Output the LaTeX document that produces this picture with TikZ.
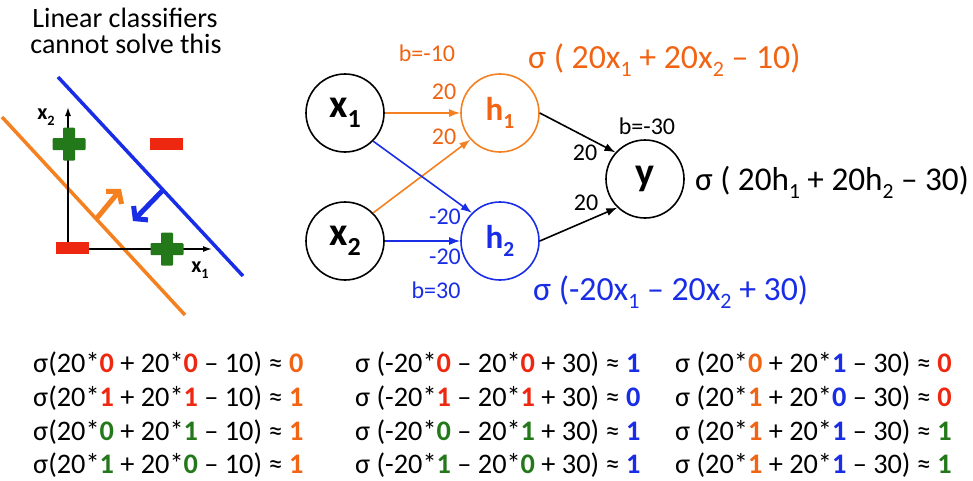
\documentclass[tikz,border=0pt]{standalone}
\usepackage{fontspec}
\setmainfont{Carlito}
\usepackage{graphicx}
\usetikzlibrary{arrows.meta}
\definecolor{orL}{RGB}{245,128,32}
\definecolor{orT}{RGB}{240,100,20}
\definecolor{bl}{RGB}{25,45,230}
\definecolor{gr}{RGB}{35,120,25}
\definecolor{rd}{RGB}{238,40,16}
\newcommand\subs[1]{\raisebox{-0.25em}{\scalebox{0.65}{#1}}}
\newcommand\Rd[1]{\textcolor{rd}{\textbf{#1}}}
\newcommand\Gr[1]{\textcolor{gr}{\textbf{#1}}}
\newcommand\Or[1]{\textcolor{orT}{\textbf{#1}}}
\newcommand\Bl[1]{\textcolor{bl}{\textbf{#1}}}
\newcommand\gplus[2]{%
  \fill[gr,rounded corners=1pt] (#1-16.5,#2-6) rectangle (#1+16.5,#2+6);
  \fill[gr,rounded corners=1pt] (#1-6,#2-16.5) rectangle (#1+6,#2+16.5);}
\newcommand\rminus[2]{%
  \fill[rd] (#1-16.5,#2-6) rectangle (#1+16.5,#2+6);}
\tikzset{
  neuron/.style={circle, draw, line width=1.6pt, minimum size=78pt, inner sep=0pt,
    font=\fontsize{40}{40}\selectfont\bfseries},
  hneuron/.style={neuron, font=\fontsize{33}{33}\selectfont\bfseries},
  edge/.style={line width=1.6pt, -{Latex[length=11pt,width=8pt]}},
  wlab/.style={inner sep=0pt, font=\fontsize{24}{24}\selectfont},
  eqn/.style={inner sep=0pt, anchor=base west, font=\fontsize{33.8}{34}\selectfont},
  row/.style={inner sep=0pt, anchor=base west, font=\fontsize{28.3}{28}\selectfont},
  axlab/.style={inner sep=0pt, font=\fontsize{22}{22}\selectfont\bfseries},
  ttl/.style={inner sep=0pt, anchor=base, font=\fontsize{28}{28}\selectfont},
  bigarrow/.style={line width=5pt, -{Straight Barb[length=8pt,width=20pt]}},
}
\begin{document}
\begin{tikzpicture}[x=1pt,y=-1pt]
\useasboundingbox (0,0) rectangle (973,480);
% title
\node[ttl] (t1) at (125,27) {Linear classifiers};
\node[ttl] (t2) at (126,53) {cannot solve this};
% left plot
\draw[bl, line width=3.5pt] (58,77) -- (243,276);
\draw[orL, line width=3.5pt] (2,117) -- (185,315);
\draw[line width=1.5pt, -{Latex[length=9pt,width=6pt]}] (68,250) -- (68,107);
\draw[line width=1.5pt, -{Latex[length=9pt,width=6pt]}] (68,249) -- (212,249);
\node[axlab] (lx2) at (46,117) {x\subs{2}};
\node[axlab] (lx1) at (200,270) {x\subs{1}};
\gplus{69}{144}
\gplus{167}{249}
\rminus{166}{144}
\rminus{72}{248}
\draw[orL, bigarrow] (97,218) -- (121,189);
\draw[bl, bigarrow] (163,190) -- (133,221);
% network
\node[neuron] (x1) at (345,113) {x\subs{1}};
\node[neuron] (x2) at (345,241) {x\subs{2}};
\node[hneuron, draw=orL, text=orT] (h1) at (500,113) {h\subs{1}};
\node[hneuron, draw=bl, text=bl] (h2) at (500,241) {h\subs{2}};
\node[neuron] (y) at (645,179) {y};
\draw[edge, orL] (x1) -- (h1);
\draw[edge, orL] (x2.45) -- (h1.222);
\draw[edge, bl] (x1.-45) -- (h2.135);
\draw[edge, bl] (x2) -- (h2);
\draw[edge] (h1.east) -- (y.138);
\draw[edge] (h2.east) -- (y.226);
\node[wlab, text=orT] (b1) at (427,53) {b=-10};
\node[wlab, text=orT] (w11) at (444,92) {20};
\node[wlab, text=orT] (w21) at (444,137) {20};
\node[wlab, text=bl] (w12) at (445,217) {-20};
\node[wlab, text=bl] (w22) at (445,257) {-20};
\node[wlab, text=bl] (b2) at (436,290) {b=30};
\node[wlab] (v1) at (585,153) {20};
\node[wlab] (v2) at (586,203) {20};
\node[wlab] (b3) at (647,126) {b=-30};
\node[eqn, text=orT] (e1) at (528,68) {σ ( 20x\subs{1} + 20x\subs{2} – 10)};
\node[eqn, text=bl] (e2) at (533,300) {σ (-20x\subs{1} – 20x\subs{2} + 30)};
\node[eqn, font=\fontsize{33.2}{34}\selectfont] (e3) at (695,190) {σ ( 20h\subs{1} + 20h\subs{2} – 30)};
% tables
\node[row] (r11) at (33,372) {σ(20*\Rd{0} + 20*\Rd{0} – 10) ≈ \Or{0}};
\node[row] (r12) at (33,406) {σ(20*\Rd{1} + 20*\Rd{1} – 10) ≈ \Or{1}};
\node[row] (r13) at (33,440) {σ(20*\Gr{0} + 20*\Gr{1} – 10) ≈ \Or{1}};
\node[row] (r14) at (33,473) {σ(20*\Gr{1} + 20*\Gr{0} – 10) ≈ \Or{1}};
\node[row] (r21) at (355,372) {σ (-20*\Rd{0} – 20*\Rd{0} + 30) ≈ \Bl{1}};
\node[row] (r22) at (355,406) {σ (-20*\Rd{1} – 20*\Rd{1} + 30) ≈ \Bl{0}};
\node[row] (r23) at (355,440) {σ (-20*\Gr{0} – 20*\Gr{1} + 30) ≈ \Bl{1}};
\node[row] (r24) at (355,473) {σ (-20*\Gr{1} – 20*\Gr{0} + 30) ≈ \Bl{1}};
\node[row] (r31) at (675,372) {σ (20*\Or{0} + 20*\Bl{1} – 30) ≈ \Rd{0}};
\node[row] (r32) at (675,406) {σ (20*\Or{1} + 20*\Bl{0} – 30) ≈ \Rd{0}};
\node[row] (r33) at (675,440) {σ (20*\Or{1} + 20*\Bl{1} – 30) ≈ \Gr{1}};
\node[row] (r34) at (675,473) {σ (20*\Or{1} + 20*\Bl{1} – 30) ≈ \Gr{1}};
\end{tikzpicture}
\end{document}
